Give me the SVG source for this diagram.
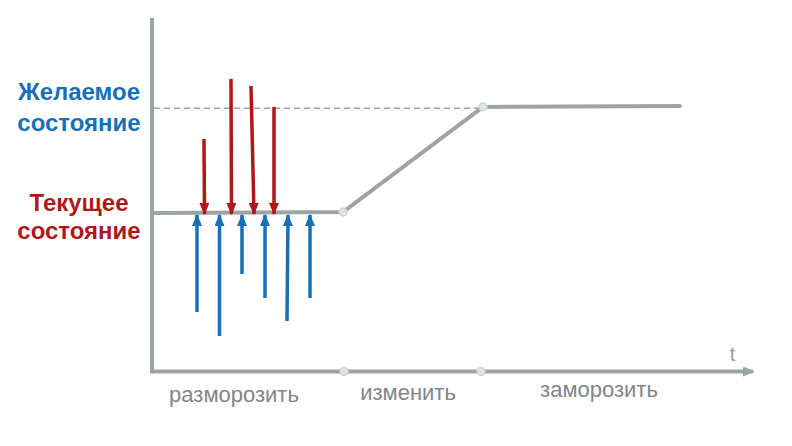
<svg xmlns="http://www.w3.org/2000/svg" width="792" height="446" viewBox="0 0 792 446">
<style>
.ax{stroke:#9aa4a4;stroke-width:4;fill:none}
.ln{stroke:#9aa4a4;stroke-width:4;fill:none;stroke-linecap:round}
.dash{stroke:#9aa4a4;stroke-width:1.6;stroke-dasharray:6 4;fill:none}
.dot{fill:#e2e4e4;stroke:#cfd3d3;stroke-width:1.5}
.red{stroke:#b01818;stroke-width:3.5;fill:none}
.blue{stroke:#1670b8;stroke-width:3.5;fill:none}
.lbl{font-family:"Liberation Sans",Arial,sans-serif;font-size:22px;fill:#858585;text-anchor:middle}
.ttl{font-family:"Liberation Sans",Arial,sans-serif;font-size:24px;font-weight:bold;text-anchor:middle}
</style>
<defs>
<marker id="ar" viewBox="0 0 12 10" refX="11" refY="5" markerWidth="12" markerHeight="10" markerUnits="userSpaceOnUse" orient="auto">
<path d="M0,0 L12,5 L0,10 Z" fill="#b01818"/>
</marker>
<marker id="ab" viewBox="0 0 12 10" refX="11" refY="5" markerWidth="12" markerHeight="10" markerUnits="userSpaceOnUse" orient="auto">
<path d="M0,0 L12,5 L0,10 Z" fill="#1670b8"/>
</marker>
<marker id="ag" viewBox="0 0 12 10" refX="10" refY="5" markerWidth="12" markerHeight="10" markerUnits="userSpaceOnUse" orient="auto">
<path d="M0,0 L12,5 L0,10 Z" fill="#9aa4a4"/>
</marker>
</defs>
<g id="axes">
<path class="ax" d="M152,18 L152,371.5 L753,371.5" marker-end="url(#ag)"/>
<text x="732.5" y="361" style="font-family:'Liberation Sans',Arial,sans-serif;font-size:20px;fill:#9a9a9a" text-anchor="middle">t</text>
</g>
<g id="connectors">
<line class="dash" x1="154" y1="108.3" x2="483" y2="108.3"/>
<path class="ln" d="M153,213 L343,212 L483,107 L680,106"/>
<line class="red" x1="204" y1="139" x2="204.5" y2="214" marker-end="url(#ar)"/>
<line class="red" x1="231" y1="79" x2="231.5" y2="214" marker-end="url(#ar)"/>
<line class="red" x1="251" y1="86" x2="254" y2="214" marker-end="url(#ar)"/>
<line class="red" x1="274" y1="107" x2="274" y2="214" marker-end="url(#ar)"/>
<line class="blue" x1="197" y1="312" x2="197" y2="215" marker-end="url(#ab)"/>
<line class="blue" x1="219.5" y1="336" x2="219.5" y2="215" marker-end="url(#ab)"/>
<line class="blue" x1="242" y1="274" x2="242" y2="215" marker-end="url(#ab)"/>
<line class="blue" x1="265" y1="298" x2="265" y2="215" marker-end="url(#ab)"/>
<line class="blue" x1="287" y1="321" x2="288" y2="215" marker-end="url(#ab)"/>
<line class="blue" x1="310" y1="298" x2="310" y2="215" marker-end="url(#ab)"/>
</g>
<g id="points">
<circle class="dot" cx="343" cy="212" r="4"/>
<circle class="dot" cx="483" cy="107" r="4"/>
<circle class="dot" cx="344" cy="371.5" r="4"/>
<circle class="dot" cx="481" cy="371.5" r="4"/>
</g>
<g id="desired">
<text class="ttl" fill="#1670b8" x="79" y="100">Желаемое</text>
<text class="ttl" fill="#1670b8" x="79" y="131">состояние</text>
</g>
<g id="current">
<text class="ttl" fill="#b01818" x="79" y="211">Текущее</text>
<text class="ttl" fill="#b01818" x="79" y="239">состояние</text>
</g>
<g id="phases">
<text class="lbl" x="234" y="401.5">разморозить</text>
<text class="lbl" x="408" y="400">изменить</text>
<text class="lbl" x="599" y="397">заморозить</text>
</g>
</svg>
